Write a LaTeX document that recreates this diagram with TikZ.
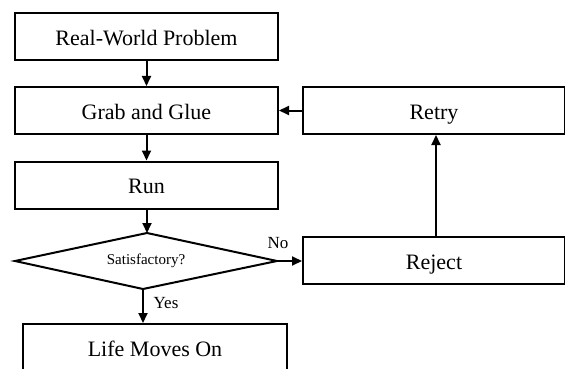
\documentclass[tikz,border=0pt]{standalone}
\usepackage{fontspec}
\setmainfont{Liberation Serif}
\usetikzlibrary{arrows.meta}
\begin{document}
\begin{tikzpicture}[x=1pt,y=-1pt,
  box/.style={draw,line width=2pt,rectangle,inner sep=0pt,minimum width=263pt,minimum height=47pt,text height=17pt,text depth=0pt,font=\fontsize{22}{24}\selectfont},
  decidetext/.style={inner sep=0pt,font=\fontsize{15}{17}\selectfont},
  edge/.style={line width=2pt,line join=miter},
  arr/.style={line width=2pt,-{Triangle[length=10pt,width=9pt]}},
  lbl/.style={font=\fontsize{17}{19}\selectfont,inner sep=0pt}]
\useasboundingbox (0,0) rectangle (565,369);
\clip (0,0) rectangle (565,369);
\node[box] (real) at (146.5,37) {Real-World Problem};
\node[box] (grab) at (146.5,110.5) {Grab and Glue};
\node[box] (run) at (146.5,185) {Run};
\coordinate (satN) at (147,233);
\coordinate (satE) at (277,261);
\coordinate (satS) at (143,289);
\coordinate (satW) at (15,261);
\draw[edge] (satN) -- (satE) -- (satS) -- (satW) -- cycle;
\node[decidetext] (sat) at (146,261) {Satisfactory?};
\node[box,minimum width=264pt,minimum height=48pt] (life) at (155,348) {Life Moves On};
\node[box,minimum width=262pt] (reject) at (434,260.5) {Reject};
\node[box,minimum width=262pt] (retry) at (434,110.5) {Retry};
\draw[arr] (real) -- (grab);
\draw[arr] (grab) -- (run);
\draw[arr] (run.south -| satN) -- (satN);
\draw[arr] (satS) -- (satS |- life.north);
\draw[arr] (satE) -- (satE -| reject.west);
\draw[arr] ([xshift=2pt]reject.north) -- ([xshift=2pt]retry.south);
\draw[arr] (retry.west) -- (grab.east);
\node[lbl] (no) at (278,243) {No};
\node[lbl] (yes) at (166,303) {Yes};
\end{tikzpicture}
\end{document}
